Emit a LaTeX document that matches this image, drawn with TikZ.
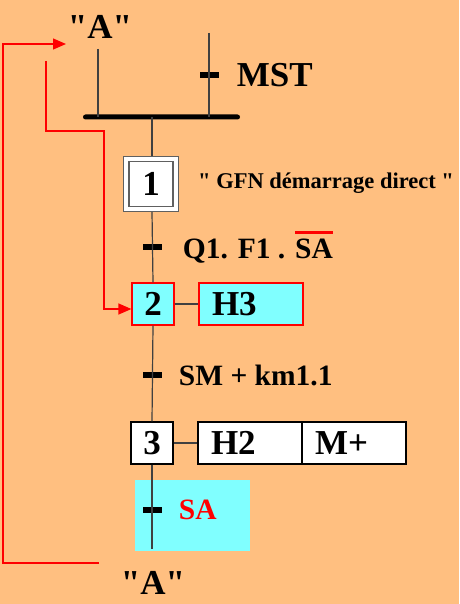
\documentclass[tikz,border=0pt]{standalone}
\usepackage{fontspec}
\setmainfont{Liberation Serif}[Ligatures=TeXOff]
\usetikzlibrary{positioning, arrows.meta, calc}
\definecolor{grbg}{HTML}{FFBF80}
\definecolor{grcyan}{HTML}{80FFFF}
\definecolor{grline}{HTML}{404040}
\definecolor{grgray}{HTML}{606060}
\definecolor{grred}{HTML}{FF0000}

\newsavebox{\negbox}
\newcommand{\negsig}[1]{\sbox{\negbox}{#1}\rlap{\textcolor{grred}{\rule[\dimexpr\ht\negbox+5pt\relax]{\wd\negbox}{2.5pt}}}\usebox{\negbox}}

\begin{document}
\begin{tikzpicture}[
  x=1pt, y=-1pt,
  big/.style={font=\fontsize{35}{38}\selectfont\bfseries, inner sep=0pt},
  mid/.style={font=\fontsize{29.5}{33}\selectfont\bfseries, inner sep=0pt},
  small/.style={font=\fontsize{22.5}{26}\selectfont\bfseries, inner sep=0pt},
  stepbox/.style={line width=1.2pt, minimum width=42pt, minimum height=42pt, inner sep=0pt, big},
  actbox/.style={line width=1.2pt, minimum width=104pt, minimum height=42pt, text width=78pt, align=left, inner xsep=13pt, inner ysep=0pt, big},
  tick/.style={fill=black, minimum width=19pt, minimum height=6pt, inner sep=0pt},
  link/.style={draw=grline, line width=1.2pt},
  retline/.style={draw=grred, line width=1.2pt, -{Triangle[length=13pt, width=11pt]}},
]
% Background
\fill[grbg] (0,0) rectangle (459,604);

% Action zone of the last receptivity
\node[fill=grcyan, minimum width=115pt, minimum height=71pt, inner sep=0pt] (sazone) at (192.5,515.5) {};

% Labels "A"
\node[big] (topA) at (100,27) {"A"};
\node[big] (botA) at (153,583) {"A"};

% Synchronisation bar
\node[fill=black, rounded corners=2.5pt, minimum width=157pt, minimum height=5pt, inner sep=0pt] (sync) at (161.5,117) {};
\coordinate (inA) at (98,49);
\coordinate (inM) at (209,33);
\node[tick] (trM) at (209,75) {};
\node[big, right=18pt of trM] (mst) {MST};

% Steps and actions
\node[stepbox, fill=white, draw=grgray, minimum width=55pt, minimum height=55pt] (step1out) at (151,184) {};
\node[stepbox, fill=white, draw=grgray, minimum width=44pt, minimum height=45pt] (step1) at (151,184) {1};
\node[small, anchor=west] (gfn) at (198,183) {" GFN démarrage direct "};

\node[tick] (tr1) at (152,247) {};
\node[mid, right=21pt of tr1] (rc1) {Q1. F1 . \negsig{SA}};

\node[stepbox, fill=grcyan, draw=grred] (step2) at (153,304) {2};
\node[actbox, fill=grcyan, draw=grred] (act2) at (251,304) {H3};

\node[tick] (tr2) at (152,375) {};
\node[mid, right=17pt of tr2] (rc2) {SM + km1.1};

\node[stepbox, fill=white, draw=black] (step3) at (152,443) {3};
\node[actbox, fill=white, draw=black] (act3a) at (250,443) {H2};
\node[actbox, fill=white, draw=black] (act3b) at (354,443) {M+};

\node[tick] (tr3) at (152,510) {};
\node[mid, text=grred, right=17pt of tr3] (rc3) {SA};
\coordinate (tail) at (152,549);

% Links
\draw[link] (inA) -- (inA |- sync);
\draw[link] (inM) -- (inM |- sync);
\draw[link] (tr1 |- sync) -- (tr1 |- step1out.north);
\draw[link] (tr1 |- step1out.south) -- (step2.north);
\draw[link] (step2.south) -- (step3.north);
\draw[link] (step3.south) -- (tail);
\draw[link] (step2.east) -- (act2.west);
\draw[link] (step3.east) -- (act3a.west);

% Return loops
\coordinate (loopin) at (99,563);
\coordinate (toA) at (66,44);
\draw[retline] (loopin) -- (3,563) |- (toA);
\coordinate (loop2in) at (46,61);
\draw[retline] (loop2in) |- (104,131) |- ([yshift=-5pt]step2.west);

\end{tikzpicture}
\end{document}
